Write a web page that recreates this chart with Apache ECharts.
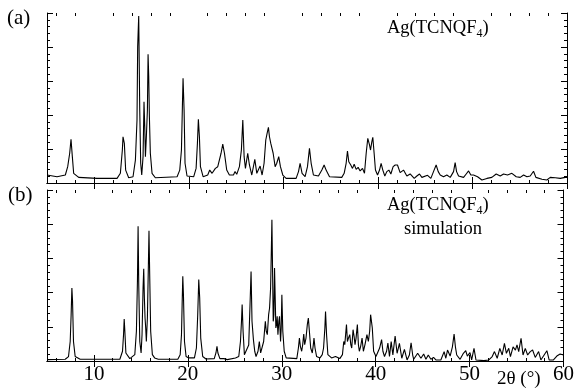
<!DOCTYPE html>
<html>
<head>
<meta charset="utf-8">
<script src="https://cdn.jsdelivr.net/npm/echarts@6/dist/echarts.min.js"></script>
<style>
  html, body { margin: 0; padding: 0; background: #fff; }
  #chart { width: 577px; height: 389px; }
</style>
</head>
<body>
<div id="chart"></div>
<script>
// 2θ tick labels / tick positions
const majorTicks = [10, 20, 30, 40, 50, 60]
const minorTicks = [6, 8, 12, 14, 16, 18, 22, 24, 26, 28, 32, 34, 36, 38, 42, 44, 46, 48, 52, 54, 56, 58]

const exptAngle = [
  5.0, 6.06, 6.94, 7.19, 7.40, 7.54, 7.68, 7.82, 8.35, 10.29, 12.41, 12.76, 12.97, 13.04, 13.18, 13.32, 13.64,
  14.10, 14.35, 14.52, 14.59, 14.70, 14.81, 14.91, 15.02, 15.16, 15.26, 15.34, 15.41, 15.51, 15.62, 15.69, 15.76,
  15.83, 15.93, 16.11, 16.46, 18.76, 19.04, 19.22, 19.32, 19.39, 19.50, 19.60, 19.81, 20.52, 20.77, 20.91, 21.01,
  21.12, 21.23, 21.51, 22.00, 22.21, 22.28, 22.46, 22.81, 23.06, 23.24, 23.41, 23.59, 23.77, 24.01, 24.29, 24.72,
  24.89, 25.07, 25.35, 25.56, 25.71, 25.85, 25.99, 26.23, 26.41, 26.66, 26.98, 27.19, 27.36, 27.54, 27.75, 27.96,
  28.14, 28.28, 28.42, 28.53, 28.67, 28.77, 28.92, 29.13, 29.30, 29.51, 29.69, 29.94, 30.29, 31.35, 31.60, 31.77,
  31.98, 32.30, 32.55, 32.76, 32.94, 33.18, 33.71, 34.07, 34.31, 34.52, 34.88, 36.18, 36.43, 36.64, 36.78, 36.92,
  37.13, 37.31, 37.49, 37.70, 37.91, 38.12, 38.37, 38.58, 38.76, 38.93, 39.11, 39.22, 39.36, 39.46, 39.60, 39.74,
  39.96, 40.17, 40.34, 40.52, 40.73, 40.94, 41.16, 41.37, 41.61, 41.83, 42.07, 42.35, 42.71, 43.06, 43.41, 43.84,
  44.12, 44.40, 44.65, 44.82, 45.25, 45.60, 45.88, 46.16, 46.38, 46.59, 46.94, 47.29, 47.65, 48.00, 48.17, 48.32,
  48.53, 49.06, 49.34, 49.59, 49.83, 50.11, 50.54, 51.00, 51.53, 52.05, 52.51, 52.94, 53.29, 53.71, 54.17, 54.63,
  55.05, 55.41, 55.76, 56.11, 56.46, 56.71, 57.35, 57.87, 58.23, 58.76, 59.29, 59.81, 60.0
]
const exptIntensity = [
  4.7, 3.7, 4.7, 9.6, 17.5, 25.7, 15.5, 5.7, 3.3, 2.7, 2.7, 5.7, 19.4, 27.2, 23.3, 7.6, 3.1,
  3.7, 13.5, 37.1, 80.2, 98.2, 42.9, 11.6, 4.7, 15.5, 47.8, 32.9, 15.5, 27.2, 42.9, 75.7, 62.7,
  39.0, 17.5, 5.7, 3.1, 3.7, 7.6, 19.4, 44.9, 61.6, 42.9, 11.6, 4.1, 3.7, 8.6, 23.3, 37.5,
  27.2, 9.6, 3.7, 4.7, 7.6, 8.6, 5.7, 8.6, 9.6, 10.6, 17.5, 22.9, 17.5, 7.6, 4.7, 4.7,
  6.7, 5.1, 9.6, 19.4, 37.1, 15.5, 8.6, 17.5, 10.6, 4.7, 13.9, 5.7, 6.7, 10.0, 4.7, 11.6,
  25.3, 29.2, 32.7, 27.2, 23.3, 24.3, 17.5, 9.6, 11.6, 15.5, 9.6, 4.7, 2.7, 2.7, 6.7, 11.6,
  5.7, 3.7, 9.6, 20.4, 11.6, 4.7, 4.1, 7.6, 10.6, 7.6, 3.7, 3.3, 5.7, 11.6, 18.8, 12.5,
  10.6, 8.6, 11.0, 8.0, 9.2, 7.1, 8.6, 5.7, 17.5, 26.3, 22.4, 19.4, 24.3, 26.9, 17.5, 7.6,
  4.7, 7.6, 11.6, 7.6, 4.1, 6.7, 7.6, 5.3, 9.6, 10.6, 10.6, 6.1, 7.6, 4.1, 5.3, 2.7,
  4.1, 5.3, 3.3, 4.1, 4.5, 2.7, 6.7, 10.6, 6.7, 4.7, 3.7, 4.7, 3.3, 6.7, 12.0, 6.7,
  4.1, 3.3, 5.3, 7.1, 4.7, 4.7, 3.7, 1.8, 2.7, 3.3, 5.3, 4.1, 5.3, 4.7, 5.7, 3.7,
  3.3, 4.7, 3.7, 4.1, 6.9, 3.3, 2.2, 1.8, 3.3, 3.1, 2.7, 3.3, 3.3
]

// (b) simulated pattern
const simAngle = [
  5.0, 6.94, 7.29, 7.47, 7.57, 7.65, 7.72, 7.82, 8.00, 8.53, 12.76, 13.04, 13.15, 13.22, 13.29, 13.40, 13.82,
  14.35, 14.52, 14.63, 14.70, 14.77, 14.88, 15.02, 15.12, 15.23, 15.30, 15.37, 15.44, 15.51, 15.58, 15.69, 15.79,
  15.86, 15.93, 16.04, 16.22, 16.46, 16.64, 16.85, 18.93, 19.18, 19.32, 19.39, 19.46, 19.53, 19.64, 19.81, 20.10,
  20.70, 20.91, 21.05, 21.16, 21.26, 21.37, 21.58, 21.93, 22.81, 22.99, 23.10, 23.20, 23.41, 23.84, 24.19, 25.07,
  25.42, 25.60, 25.71, 25.78, 25.88, 26.02, 26.23, 26.48, 26.62, 26.73, 26.83, 26.98, 27.12, 27.26, 27.47, 27.61,
  27.75, 27.89, 28.07, 28.25, 28.35, 28.46, 28.60, 28.70, 28.81, 28.88, 28.95, 29.02, 29.09, 29.16, 29.23, 29.30,
  29.37, 29.44, 29.51, 29.59, 29.69, 29.76, 29.87, 29.94, 30.01, 30.11, 30.26, 30.47, 31.60, 31.77, 31.88, 31.98,
  32.12, 32.23, 32.34, 32.44, 32.58, 32.72, 32.83, 32.94, 33.08, 33.25, 33.36, 33.43, 33.54, 33.71, 34.07, 34.31,
  34.45, 34.59, 34.66, 34.77, 34.91, 35.30, 35.72, 36.18, 36.46, 36.60, 36.71, 36.89, 36.99, 37.10, 37.24, 37.35,
  37.45, 37.59, 37.70, 37.80, 37.91, 38.05, 38.16, 38.26, 38.40, 38.55, 38.69, 38.86, 39.07, 39.22, 39.36, 39.46,
  39.53, 39.64, 39.78, 40.03, 40.24, 40.42, 40.63, 40.77, 40.94, 41.16, 41.30, 41.47, 41.65, 41.83, 42.07, 42.28,
  42.53, 42.78, 43.06, 43.34, 43.59, 43.77, 43.94, 44.05, 44.47, 44.82, 45.11, 45.35, 45.60, 45.88, 46.16, 46.41,
  46.94, 47.29, 47.47, 47.65, 47.93, 48.17, 48.35, 48.49, 48.63, 48.99, 49.34, 49.59, 49.76, 50.04, 50.22, 50.47,
  50.68, 51.53, 52.05, 52.41, 52.65, 52.94, 53.22, 53.47, 53.71, 53.92, 54.17, 54.35, 54.63, 54.88, 55.05, 55.23,
  55.48, 55.69, 55.93, 56.18, 56.46, 56.71, 56.99, 57.35, 57.59, 58.23, 58.47, 58.93, 59.29, 59.64, 60.0
]
const simIntensity = [
  0.8, 1.0, 2.6, 11.4, 27.1, 42.7, 34.9, 11.4, 2.6, 1.0, 1.0, 5.7, 15.4, 24.6, 17.4, 4.7, 1.4,
  3.7, 17.4, 46.6, 78.8, 44.6, 11.4, 4.7, 15.4, 42.7, 54.0, 36.8, 25.1, 19.3, 11.4, 25.1, 54.4,
  76.2, 52.4, 17.4, 3.7, 1.8, 2.5, 1.0, 1.0, 3.7, 15.4, 33.0, 49.6, 38.8, 11.4, 2.6, 1.8,
  1.8, 7.6, 27.1, 47.6, 36.8, 13.4, 2.6, 1.2, 1.4, 4.7, 8.6, 4.7, 1.4, 1.4, 0.8, 1.8,
  2.6, 11.4, 23.2, 33.0, 17.4, 3.7, 2.6, 9.4, 33.0, 52.4, 23.2, 12.5, 5.7, 2.6, 5.7, 11.4,
  4.7, 3.7, 11.4, 23.2, 17.4, 15.4, 27.1, 31.0, 42.7, 62.2, 82.6, 52.4, 23.2, 27.1, 54.4, 36.8,
  19.3, 21.3, 26.1, 15.4, 23.2, 26.1, 11.4, 19.3, 38.8, 17.4, 5.7, 1.8, 1.4, 7.6, 13.4, 8.6,
  5.7, 9.6, 15.8, 9.6, 13.4, 21.3, 25.1, 17.4, 7.6, 4.7, 9.6, 13.4, 7.6, 2.6, 1.8, 3.7,
  7.6, 19.3, 29.0, 15.4, 3.7, 1.8, 2.6, 1.4, 3.7, 11.4, 9.6, 21.3, 11.4, 13.4, 15.4, 9.6,
  7.6, 18.3, 14.4, 9.6, 13.4, 21.3, 9.6, 5.7, 8.6, 13.4, 5.7, 9.6, 15.4, 11.4, 17.4, 27.1,
  28.1, 19.3, 5.7, 2.6, 3.7, 7.6, 12.5, 5.7, 2.6, 5.7, 10.5, 2.6, 11.3, 3.6, 14.6, 4.5,
  10.3, 1.6, 6.8, 0.6, 3.5, 10.7, 3.5, 1.0, 4.5, 1.6, 4.1, 1.0, 3.5, 1.0, 2.1, 0.6,
  0.6, 5.5, 1.6, 6.4, 2.9, 8.3, 15.7, 8.3, 3.5, 1.0, 4.5, 6.0, 2.9, 4.9, 0.6, 7.4,
  0.6, 0.2, 0.6, 2.6, 5.5, 1.6, 7.4, 3.5, 10.3, 4.5, 7.4, 2.6, 8.3, 6.4, 9.4, 5.5,
  13.3, 3.5, 7.4, 3.5, 5.5, 6.4, 2.1, 5.5, 0.6, 6.0, 0.6, 0.6, 2.9, 4.1, 3.5
]

const serif = '"Liberation Serif", "DejaVu Serif", serif'
const zip = (xs, ys) => xs.map((x, i) => [x, ys[i]])

// x轴: 大刻度+小刻度, 上下各一条
const xAxisSet = (gridIndex, withLabels) => {
  const base = {
    type: 'value', gridIndex, min: 5, max: 60,
    axisLine: { show: true, lineStyle: { color: '#000', width: 1 } },
    splitLine: { show: false }
  }
  return [
    {
      ...base, position: 'bottom',
      axisTick: { show: true, inside: true, length: 6, customValues: majorTicks, lineStyle: { color: '#000' } },
      axisLabel: withLabels
        ? { show: true, customValues: majorTicks, color: '#000', fontFamily: serif, fontSize: 21, margin: 3 }
        : { show: false }
    },
    {
      ...base, position: 'top',
      axisTick: { show: true, inside: true, length: 6, customValues: majorTicks, lineStyle: { color: '#000' } },
      axisLabel: { show: false }
    },
    {
      ...base, position: 'bottom', axisLine: { show: false },
      axisTick: { show: true, inside: true, length: 3, customValues: minorTicks, lineStyle: { color: '#000' } },
      axisLabel: { show: false }
    },
    {
      ...base, position: 'top', axisLine: { show: false },
      axisTick: { show: true, inside: true, length: 3, customValues: minorTicks, lineStyle: { color: '#000' } },
      axisLabel: { show: false }
    }
  ]
}

// y轴: 左右两侧
const yAxisSet = (gridIndex) => ['left', 'right'].map(position => ({
  type: 'value', gridIndex, position, min: 0, max: 100, interval: 20,
  axisLine: { show: true, lineStyle: { color: '#000', width: 1 } },
  axisTick: { show: true, inside: true, length: 6, lineStyle: { color: '#000' } },
  minorTick: { show: true, splitNumber: 5, length: 3, lineStyle: { color: '#000' } },
  axisLabel: { show: false },
  splitLine: { show: false }
}))

const chart = echarts.init(document.getElementById('chart'), null, { renderer: 'canvas' })

const option = {
  animation: false,
  backgroundColor: '#fff',
  grid: [
    { left: 47, right: 10, top: 13, height: 170 },
    { left: 47, right: 10, top: 190, height: 171 }
  ],
  xAxis: [...xAxisSet(0, false), ...xAxisSet(1, true)],
  yAxis: [...yAxisSet(0), ...yAxisSet(1)],
  series: [
    {
      name: 'Ag(TCNQF4)',
      type: 'line',
      xAxisIndex: 0,
      yAxisIndex: 0,
      data: zip(exptAngle, exptIntensity),
      showSymbol: false,
      lineStyle: { color: '#000', width: 1.1 }
    },
    {
      name: 'simulation',
      type: 'line',
      xAxisIndex: 4,
      yAxisIndex: 2,
      data: zip(simAngle, simIntensity),
      showSymbol: false,
      lineStyle: { color: '#000', width: 1.1 }
    }
  ],
  graphic: [
    { type: 'text', left: 7, top: 8, style: { text: '(a)', font: '21px ' + serif, fill: '#000' } },
    { type: 'text', left: 8, top: 185, style: { text: '(b)', font: '21px ' + serif, fill: '#000' } },
    {
      type: 'text', left: 387, top: 19,
      style: {
        text: 'Ag(TCNQF{s|4})', font: '18.5px ' + serif, fill: '#000',
        rich: { s: { fontSize: 12, fontFamily: serif, padding: [10, 0, 0, 0] } }
      }
    },
    {
      type: 'text', left: 387, top: 196,
      style: {
        text: 'Ag(TCNQF{s|4})', font: '18.5px ' + serif, fill: '#000',
        rich: { s: { fontSize: 12, fontFamily: serif, padding: [10, 0, 0, 0] } }
      }
    },
    { type: 'text', left: 404, top: 220, style: { text: 'simulation', font: '18.5px ' + serif, fill: '#000' } },
    { type: 'text', left: 497, top: 370, style: { text: '2θ (°)', font: '19px ' + serif, fill: '#000' } }
  ]
}

chart.setOption(option)
</script>
</body>
</html>
